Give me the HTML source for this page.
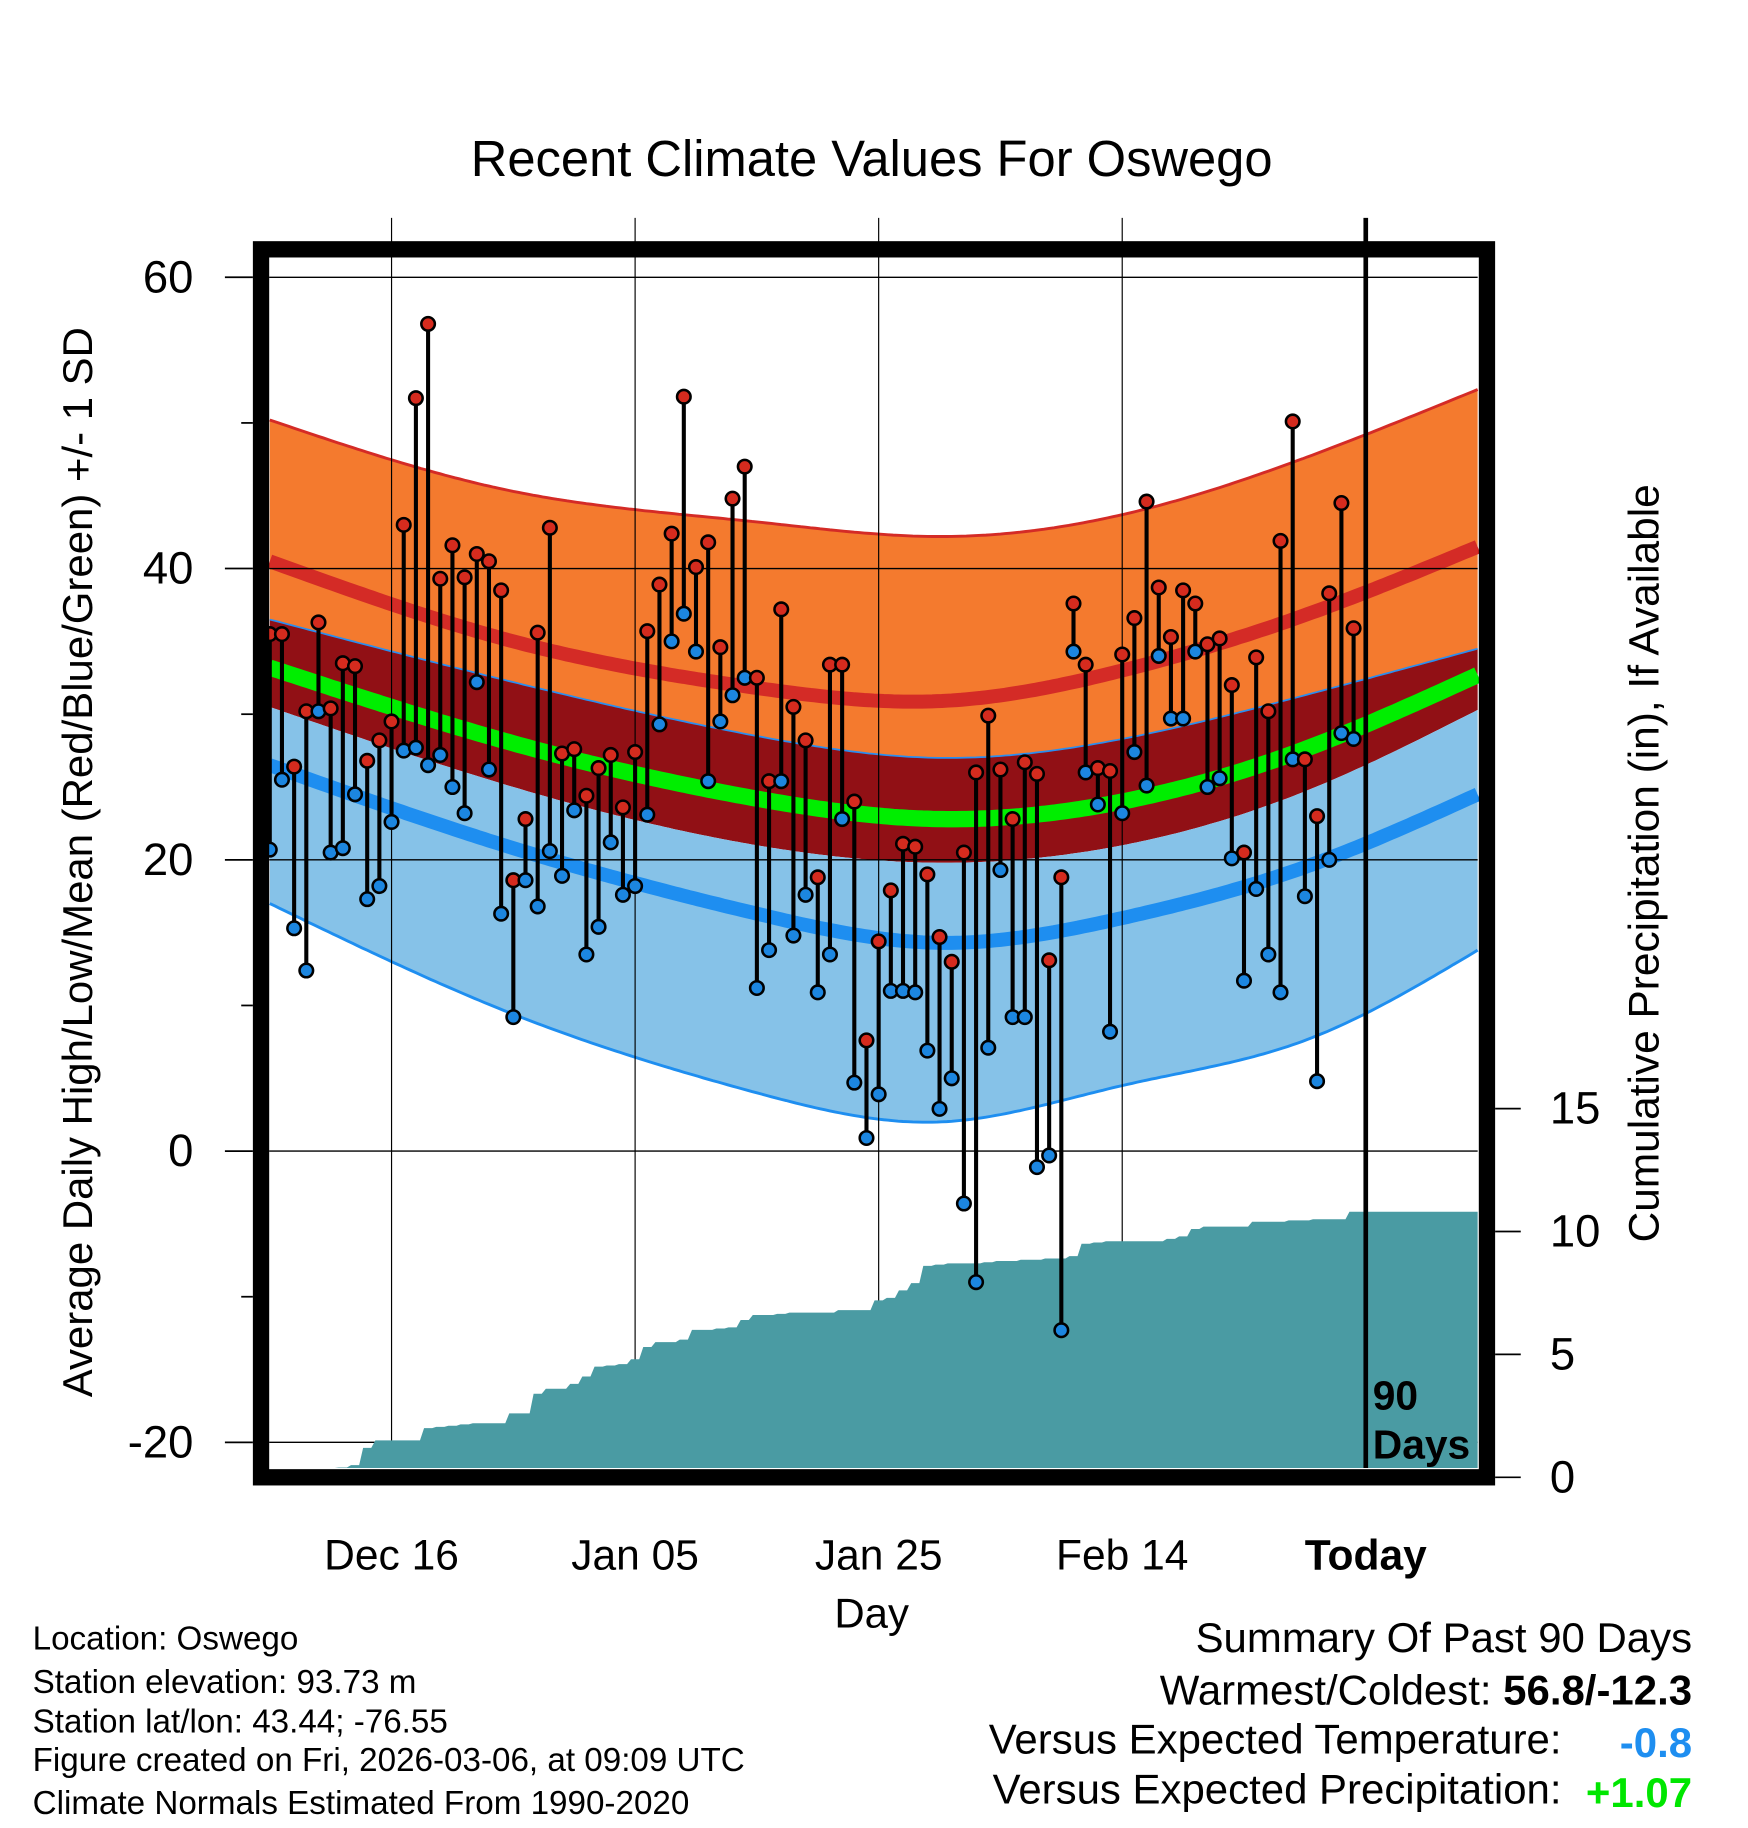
<!DOCTYPE html>
<html><head><meta charset="utf-8"><style>
html,body{margin:0;padding:0;background:#fff;}
svg{display:block;font-family:"Liberation Sans",sans-serif;}
</style></head><body>
<svg id="chart" width="1748" height="1828" viewBox="0 0 1500 1569" preserveAspectRatio="none" xmlns="http://www.w3.org/2000/svg">
<rect x="0" y="0" width="1500" height="1569" fill="#fff"/>
<text x="748" y="151" font-size="43.5" text-anchor="middle">Recent Climate Values For Oswego</text>
<g id="bands"></g><g id="grid"></g><g id="precip"></g><g id="stems"></g><g id="axes"></g>
<text transform="translate(79,740) rotate(-90)" font-size="36" text-anchor="middle">Average Daily High/Low/Mean (Red/Blue/Green) +/- 1 SD</text>
<text transform="translate(1423,741) rotate(-90)" font-size="36.4" text-anchor="middle">Cumulative Precipitation (in), If Available</text>
<text x="748" y="1397" font-size="36" text-anchor="middle">Day</text>
<g font-size="35" font-weight="bold"><text x="1178" y="1210">90</text><text x="1178" y="1252">Days</text></g>
<g font-size="28.5">
<text x="28" y="1416">Location: Oswego</text>
<text x="28" y="1453">Station elevation: 93.73 m</text>
<text x="28" y="1487">Station lat/lon: 43.44; -76.55</text>
<text x="28" y="1520">Figure created on Fri, 2026-03-06, at 09:09 UTC</text>
<text x="28" y="1557">Climate Normals Estimated From 1990-2020</text>
</g>
<g font-size="36" text-anchor="end">
<text x="1452" y="1418">Summary Of Past 90 Days</text>
<text x="1452" y="1463">Warmest/Coldest: <tspan font-weight="bold">56.8/-12.3</tspan></text>
<text x="1340" y="1505">Versus Expected Temperature:</text>
<text x="1452" y="1508" fill="#1e8ef0" font-weight="bold">-0.8</text>
<text x="1340" y="1548">Versus Expected Precipitation:</text>
<text x="1452" y="1551" fill="#00e600" font-weight="bold">+1.07</text>
</g>
</svg>
<script>
const highs=[35.5,35.5,26.4,30.2,36.3,30.4,33.5,33.3,26.8,28.2,29.5,43,51.7,56.8,39.3,41.6,39.4,41,40.5,38.5,18.6,22.8,35.6,42.8,27.3,27.6,24.4,26.3,27.2,23.6,27.4,35.7,38.9,42.4,51.8,40.1,41.8,34.6,44.8,47,32.5,25.4,37.2,30.5,28.2,18.8,33.4,33.4,24,7.6,14.4,17.9,21.1,20.9,19,14.7,13,20.5,26,29.9,26.2,22.8,26.7,25.9,13.1,18.8,37.6,33.4,26.3,26.1,34.1,36.6,44.6,38.7,35.3,38.5,37.6,34.8,35.2,32,20.5,33.9,30.2,41.9,50.1,26.9,23,38.3,44.5,35.9];
const lows=[20.7,25.5,15.3,12.4,30.2,20.5,20.8,24.5,17.3,18.2,22.6,27.5,27.7,26.5,27.2,25,23.2,32.2,26.2,16.3,9.2,18.6,16.8,20.6,18.9,23.4,13.5,15.4,21.2,17.6,18.2,23.1,29.3,35,36.9,34.3,25.4,29.5,31.3,32.5,11.2,13.8,25.4,14.8,17.6,10.9,13.5,22.8,4.7,0.9,3.9,11,11,10.9,6.9,2.9,5,-3.6,-9,7.1,19.3,9.2,9.2,-1.1,-0.3,-12.3,34.3,26,23.8,8.2,23.2,27.4,25.1,34,29.7,29.7,34.3,25,25.6,20.1,11.7,18,13.5,10.9,26.9,17.5,4.8,20,28.7,28.3];
const precip=[0,0,0,0,0.3,0.3,0.4,0.5,1.2,1.5,1.5,1.5,1.5,2.0,2.05,2.1,2.15,2.2,2.2,2.2,2.6,2.6,3.4,3.6,3.6,3.8,4.1,4.5,4.55,4.6,4.8,5.3,5.5,5.5,5.6,6.0,6.0,6.05,6.1,6.4,6.6,6.6,6.65,6.7,6.7,6.7,6.7,6.8,6.8,6.8,7.2,7.3,7.6,7.9,8.6,8.65,8.7,8.7,8.7,8.75,8.8,8.8,8.85,8.85,8.9,8.9,9.0,9.5,9.55,9.6,9.6,9.6,9.6,9.6,9.7,9.8,10.1,10.2,10.2,10.2,10.2,10.4,10.4,10.4,10.45,10.45,10.5,10.5,10.5,10.8];
const knotDays=[0,20,40,55,70,85,99.2];
const highSDup=[50.2,45.3,43.2,42.2,43.7,47.6,52.3];
const normHigh=[40.5,35,31.8,30.9,33,36.8,41.5];
const meanSDup=[36.5,32.2,28.5,27,28.3,31.3,34.5];
const normMean=[33.2,28,24.2,22.8,24,27.6,32.7];
const meanSDdn=[30.5,25,21,19.8,21,24.7,30.3];
const normLow=[26.5,20.8,16.3,14.3,16,19.5,24.5];
const lowSDdn=[17,9.4,4,2,4.5,7.6,13.8];
const yTicks=[60,40,20,0,-20];
const pTicks=[0,5,10,15];
const xLabels=["Dec 16","Jan 05","Jan 25","Feb 14","Today"];
const xLabelDays=[10,30,50,70,90];

const NS="http://www.w3.org/2000/svg";
const X0=231,X1=1268,YT=222,YB=1260;
const xs=d=>1172-10.45*(90-d);
const ys=v=>988-12.5*v;
const yp=p=>1268-21.1*p;
function mk(tag,attrs,parent){const e=document.createElementNS(NS,tag);for(const k in attrs)e.setAttribute(k,attrs[k]);parent.appendChild(e);return e;}
function spline(xk,yk){
  const n=xk.length,h=[],al=[],l=[1],mu=[0],z=[0],c=new Array(n).fill(0),b=[],d=[];
  for(let i=0;i<n-1;i++)h.push(xk[i+1]-xk[i]);
  for(let i=1;i<n-1;i++)al[i]=3/h[i]*(yk[i+1]-yk[i])-3/h[i-1]*(yk[i]-yk[i-1]);
  for(let i=1;i<n-1;i++){l[i]=2*(xk[i+1]-xk[i-1])-h[i-1]*mu[i-1];mu[i]=h[i]/l[i];z[i]=(al[i]-h[i-1]*z[i-1])/l[i];}
  for(let j=n-2;j>=0;j--){c[j]=(j<n-2||true)?((j===n-1)?0:(z[j]||0)-mu[j]*c[j+1]):0;b[j]=(yk[j+1]-yk[j])/h[j]-h[j]*(c[j+1]+2*c[j])/3;d[j]=(c[j+1]-c[j])/(3*h[j]);}
  return t=>{let i=0;while(i<n-2&&t>xk[i+1])i++;const dx=t-xk[i];return yk[i]+b[i]*dx+c[i]*dx*dx+d[i]*dx*dx*dx;};
}
function curve(vals){
  const f=spline(knotDays,vals),pts=[];
  for(let d=0;d<=99.2;d+=0.4)pts.push([Math.max(X0,Math.min(X1,xs(d))),ys(f(d))]);
  pts.push([X1,ys(vals[vals.length-1])]);
  return pts;
}
function band(top,bot,fill,name){
  const a=curve(top),b=curve(bot).reverse();
  const e=mk('path',{d:'M'+a.concat(b).map(p=>p[0].toFixed(1)+','+p[1].toFixed(1)).join('L')+'Z',fill:fill},document.getElementById('bands'));
  
  
}
function line(vals,col,w,name){
  const e=mk('path',{d:'M'+curve(vals).map(p=>p[0].toFixed(1)+','+p[1].toFixed(1)).join('L'),fill:'none',stroke:col,'stroke-width':w},document.getElementById('bands'));
  
  
}
band(highSDup,meanSDup,'#f47a2e','high-sd-band');
band(meanSDup,meanSDdn,'#911015','mean-sd-band');
band(meanSDdn,lowSDdn,'#86c2e8','low-sd-band');
line(highSDup,'#d42b26',2.5,'high-sd-upper-line');
line(normHigh,'#d42b26',12,'normal-high-line');
line(meanSDup,'#2a8ef0',1.5,'mean-sd-upper-line');
line(normMean,'#00ee00',14,'normal-mean-line');
line(normLow,'#1e8ef0',12,'normal-low-line');
line(lowSDdn,'#1e8ef0',2.5,'low-sd-lower-line');

const grid=document.getElementById('grid');
yTicks.forEach(v=>{const e=mk('line',{x1:X0,x2:X1,y1:ys(v),y2:ys(v),stroke:'#000','stroke-width':1.2},grid);

});
xLabelDays.forEach((d,i)=>{if(i===4)return;const e=mk('line',{x1:xs(d),x2:xs(d),y1:187,y2:YB,stroke:'#000','stroke-width':1},grid);

});

let pd='M'+X0+','+YB;
precip.forEach((p,i)=>{const xa=Math.max(X0,xs(i)-3.5),xb=xs(i)+3.5;pd+='L'+xa.toFixed(1)+','+Math.min(YB,yp(p)).toFixed(1)+'L'+xb.toFixed(1)+','+Math.min(YB,yp(p)).toFixed(1);});
pd+='L'+X1+','+yp(precip[precip.length-1]).toFixed(1)+'L'+X1+','+YB+'Z';
const pa=mk('path',{d:pd,fill:'#4a9ba3'},document.getElementById('precip'));



const st=document.getElementById('stems');
highs.forEach((h,i)=>{
  const l=mk('line',{x1:xs(i),x2:xs(i),y1:ys(h),y2:ys(lows[i]),stroke:'#000','stroke-width':3.5},st);
  
  
});
highs.forEach((h,i)=>{
  const c1=mk('circle',{cx:xs(i),cy:ys(h),r:5.8,fill:'#d52b1e',stroke:'#000','stroke-width':2.2},st);
  
  
  const c2=mk('circle',{cx:xs(i),cy:ys(lows[i]),r:5.8,fill:'#1c86e0',stroke:'#000','stroke-width':2.2},st);
  
  
});

const ax=document.getElementById('axes');
const fr=mk('rect',{x:224,y:214,width:1052,height:1054,fill:'none',stroke:'#000','stroke-width':14},ax);


const td=mk('line',{x1:1172,x2:1172,y1:187,y2:YB,stroke:'#000','stroke-width':4},ax);


yTicks.forEach(v=>{
  mk('line',{x1:193,x2:217,y1:ys(v),y2:ys(v),stroke:'#000','stroke-width':1.5},ax);
  const t=mk('text',{x:166,y:ys(v)+13,'font-size':39,'text-anchor':'end'},ax);t.textContent=v;
  
  
});
[50,30,10,-10].forEach(v=>mk('line',{x1:207,x2:217,y1:ys(v),y2:ys(v),stroke:'#000','stroke-width':1.5},ax));
pTicks.forEach(p=>{
  mk('line',{x1:1283,x2:1305,y1:yp(p),y2:yp(p),stroke:'#000','stroke-width':1.5},ax);
  const t=mk('text',{x:1330,y:yp(p)+13,'font-size':39},ax);t.textContent=p;
  
  
});
xLabels.forEach((s,i)=>{
  const t=mk('text',{x:xs(xLabelDays[i]),y:1347,'font-size':36.5,'text-anchor':'middle'},ax);t.textContent=s;
  if(i===4)t.setAttribute('font-weight','bold');
  
  
});
</script>
</body></html>
